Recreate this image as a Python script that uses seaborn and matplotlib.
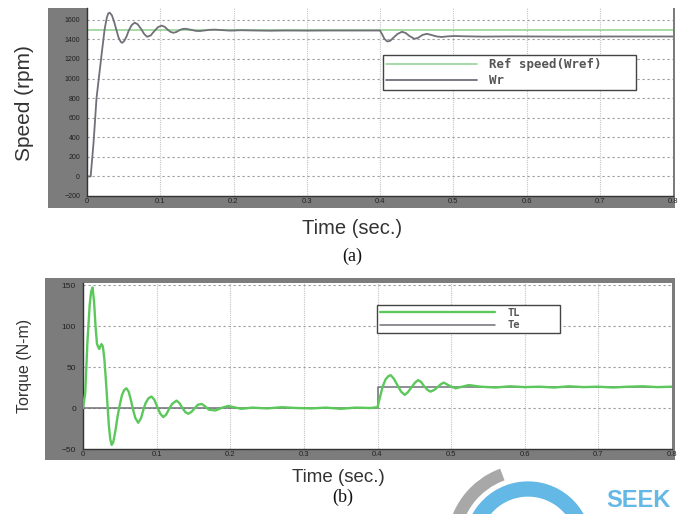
import matplotlib
matplotlib.use("Agg")
import matplotlib.pyplot as plt
import seaborn as sns
from matplotlib.patches import Arc, Rectangle
from matplotlib.transforms import IdentityTransform

W, H = 683, 514

# --- speed panel (a) ---
ref_time = [0.0, 0.8]
ref_speed = [1500, 1500]

wr_time = [0.0, 0.005, 0.009, 0.013, 0.020, 0.024, 0.027, 0.029, 0.031, 0.034,
           0.037, 0.040, 0.043, 0.046, 0.048, 0.051, 0.054, 0.057, 0.061, 0.065,
           0.069, 0.074, 0.078, 0.082, 0.087, 0.092, 0.097, 0.102, 0.106, 0.110,
           0.114, 0.118, 0.122, 0.126, 0.130, 0.134, 0.139, 0.144, 0.149, 0.154,
           0.160, 0.167, 0.175, 0.185, 0.195, 0.210, 0.230, 0.250, 0.270, 0.300,
           0.330, 0.360, 0.380, 0.400, 0.403, 0.406, 0.410, 0.414, 0.418, 0.424,
           0.430, 0.435, 0.440, 0.447, 0.452, 0.458, 0.464, 0.470, 0.477, 0.484,
           0.492, 0.502, 0.515, 0.540, 0.580, 0.650, 0.720, 0.800]
wr_speed = [0, 0, 350, 800, 1250, 1500, 1620, 1665, 1672, 1645,
            1580, 1500, 1420, 1375, 1364, 1385, 1430, 1490, 1545, 1570,
            1555, 1505, 1455, 1426, 1440, 1485, 1525, 1540, 1528, 1500,
            1476, 1467, 1475, 1492, 1505, 1508, 1502, 1494, 1486, 1485,
            1490, 1497, 1499, 1494, 1489, 1493, 1490, 1488, 1490, 1489,
            1490, 1490, 1490, 1490, 1450, 1405, 1378, 1385, 1415, 1455,
            1477, 1465, 1435, 1405, 1415, 1445, 1456, 1445, 1430, 1424,
            1430, 1434, 1431, 1428, 1430, 1428, 1429, 1429]

speed_ticks = [-200, 0, 200, 400, 600, 800, 1000, 1200, 1400, 1600]

# --- torque panel (b) ---
load_time = [0.0, 0.4, 0.4, 0.8]
load_torque = [0, 0, 26, 26]

em_time = [0.000, 0.003, 0.006, 0.009, 0.011, 0.013, 0.015, 0.017, 0.019, 0.022,
           0.025, 0.027, 0.029, 0.031, 0.033, 0.035, 0.037, 0.039, 0.041, 0.044,
           0.047, 0.050, 0.053, 0.056, 0.059, 0.062, 0.065, 0.068, 0.071, 0.075,
           0.079, 0.082, 0.085, 0.089, 0.093, 0.097, 0.101, 0.105, 0.109, 0.113,
           0.117, 0.121, 0.127, 0.131, 0.135, 0.139, 0.143, 0.147, 0.152, 0.156,
           0.161, 0.166, 0.171, 0.180, 0.188, 0.197, 0.205, 0.215, 0.230, 0.250,
           0.270, 0.290, 0.310, 0.330, 0.350, 0.370, 0.390, 0.400, 0.403, 0.407,
           0.411, 0.415, 0.418, 0.422, 0.427, 0.432, 0.437, 0.441, 0.446, 0.451,
           0.455, 0.459, 0.463, 0.468, 0.472, 0.477, 0.481, 0.486, 0.490, 0.494,
           0.498, 0.506, 0.515, 0.524, 0.540, 0.560, 0.580, 0.600, 0.620, 0.640,
           0.660, 0.680, 0.700, 0.720, 0.740, 0.760, 0.780, 0.800]
em_torque = [0, 18, 80, 125, 142, 147, 130, 100, 78, 72,
             78, 75, 60, 35, 8, -20, -38, -45, -42, -28,
             -10, 4, 16, 22, 24, 20, 10, -2, -12, -18,
             -12, -2, 6, 12, 14, 10, 1, -7, -11, -8,
             -1, 5, 9, 6, 0, -5, -7, -5, 0, 4,
             5, 2, -2, -3, 0, 2.5, 1, -1, 0.5, -0.5,
             1, 0, -0.5, 0.5, -1, 0.5, 0, 1, 12, 26,
             35, 39, 40, 36, 28, 20, 16, 19, 25, 31,
             34, 32, 27, 22, 20, 22, 25, 29, 31, 29,
             27, 24, 26, 28, 26, 25, 26.5, 25.5, 26, 25,
             26.5, 25.5, 26, 25, 26, 26.5, 25.5, 26]

torque_ticks = [-50, 0, 50, 100, 150]

time_ticks = [0, 0.1, 0.2, 0.3, 0.4, 0.5, 0.6, 0.7, 0.8]
time_labels = ["0", "0.1", "0.2", "0.3", "0.4", "0.5", "0.6", "0.7", "0.8"]

GREEN_LIGHT = "#9fd89f"
GREEN = "#5cc85c"
GRAY_LINE = "#6f7078"
FRAME = "#7c7c7c"

sns.set_theme(style="white")
plt.rcParams["font.family"] = ["Liberation Sans", "DejaVu Sans"]


def frac_box(x0, y0, x1, y1):
    """Pixel box (top-left origin) -> figure fraction [l, b, w, h]."""
    return [x0 / W, 1 - y1 / H, (x1 - x0) / W, (y1 - y0) / H]


def style_axes(ax, yticks, ylim, ylabel_size):
    ax.set_xlim(0, 0.8)
    ax.set_ylim(*ylim)
    ax.set_xticks(time_ticks)
    ax.set_xticklabels(time_labels)
    ax.set_yticks(yticks)
    ax.xaxis.grid(True, color="#c4c4c4", linestyle=(0, (1, 1)), linewidth=0.8)
    ax.yaxis.grid(True, color="#9c9c9c", linestyle=(0, (2, 2.5)), linewidth=0.8)
    ax.set_axisbelow(True)
    for side in ("top", "right"):
        ax.spines[side].set_visible(False)
    for side in ("left", "bottom"):
        ax.spines[side].set_color("#333333")
        ax.spines[side].set_linewidth(1.0)
    ax.tick_params(axis="both", direction="in", length=2, width=0.6,
                   colors="#222222")
    ax.tick_params(axis="x", labelsize=5.5, pad=1.5)
    ax.tick_params(axis="y", labelsize=ylabel_size, pad=5)
    ax.set_xlabel("")
    ax.set_ylabel("")


fig = plt.figure(figsize=(W / 100, H / 100), dpi=100)

for x0, y0, x1, y1 in [(48, 8, 675, 208), (45, 278, 675, 460)]:
    fig.add_artist(Rectangle((x0 / W, 1 - y1 / H), (x1 - x0) / W, (y1 - y0) / H,
                             transform=fig.transFigure, facecolor=FRAME,
                             edgecolor="none", zorder=-1))

# (a) speed
ax1 = fig.add_axes(frac_box(87, 8, 673, 196))
sns.lineplot(x=ref_time, y=ref_speed, ax=ax1, color=GREEN_LIGHT, linewidth=1.3,
             estimator=None, sort=False, label="Ref speed(Wref)")
sns.lineplot(x=wr_time, y=wr_speed, ax=ax1, color=GRAY_LINE, linewidth=1.3,
             estimator=None, sort=False, label="Wr")
style_axes(ax1, speed_ticks, (-200, 1720), 5)
leg1 = ax1.legend(loc="upper left", mode="expand",
                  bbox_to_anchor=(383 / W, 1 - 88 / H, 253 / W, 33 / H),
                  bbox_transform=fig.transFigure, borderaxespad=0,
                  handlelength=7.3, handletextpad=0.9, labelspacing=0.25,
                  borderpad=0.25, fancybox=False, framealpha=1,
                  prop={"family": "DejaVu Sans Mono", "weight": "bold", "size": 9})
leg1.get_frame().set_edgecolor("#444444")
leg1.get_frame().set_linewidth(1.0)
for t in leg1.get_texts():
    t.set_color("#555555")

# (b) torque
ax2 = fig.add_axes(frac_box(83, 283, 672, 449))
sns.lineplot(x=em_time, y=em_torque, ax=ax2, color=GREEN, linewidth=1.7,
             estimator=None, sort=False, label="TL", zorder=3)
sns.lineplot(x=load_time, y=load_torque, ax=ax2, color=GRAY_LINE, linewidth=1.1,
             estimator=None, sort=False, label="Te", zorder=2)
style_axes(ax2, torque_ticks, (-50, 152.5), 6)
leg2 = ax2.legend(loc="upper left", mode="expand",
                  bbox_to_anchor=(377 / W, 1 - 333 / H, 183 / W, 28 / H),
                  bbox_transform=fig.transFigure, borderaxespad=0,
                  handlelength=11, handletextpad=1.2, labelspacing=0.2,
                  borderpad=0.3, fancybox=False, framealpha=1,
                  prop={"family": "DejaVu Sans Mono", "weight": "bold", "size": 7.5})
leg2.get_frame().set_edgecolor("#444444")
leg2.get_frame().set_linewidth(1.0)
for t in leg2.get_texts():
    t.set_color("#555555")

# labels
fig.text(25 / W, 1 - 103 / H, "Speed (rpm)", rotation=90, ha="center",
         va="center", fontsize=15, color="#333333")
fig.text(352 / W, 1 - 229 / H, "Time (sec.)", ha="center", va="center",
         fontsize=14.5, color="#333333")
fig.text(352 / W, 1 - 256 / H, "(a)", ha="center", va="center", fontsize=13,
         family="Liberation Serif", color="#111111")

fig.text(25 / W, 1 - 366 / H, "Torque (N-m)", rotation=90, ha="center",
         va="center", fontsize=11.5, color="#333333")
fig.text(338 / W, 1 - 478 / H, "Time (sec.)", ha="center", va="center",
         fontsize=13.5, color="#333333")
fig.text(343 / W, 1 - 497 / H, "(b)", ha="center", va="center", fontsize=13,
         family="Liberation Serif", color="#111111")

# watermark in the corner
ident = IdentityTransform()
fig.add_artist(Arc((528, H - 545), 150, 150, theta1=110, theta2=175,
                   transform=ident, color="#a8a8a8", linewidth=9, zorder=5))
fig.add_artist(Arc((528, H - 545), 112, 112, theta1=10, theta2=190,
                   transform=ident, color="#63b8e6", linewidth=11, zorder=5))
fig.text(606 / W, 1 - 512 / H, "SEEK", fontsize=17, fontweight="bold",
         color="#63b8e6", ha="left", va="bottom", zorder=5)

fig.savefig("out.png", dpi=100)
